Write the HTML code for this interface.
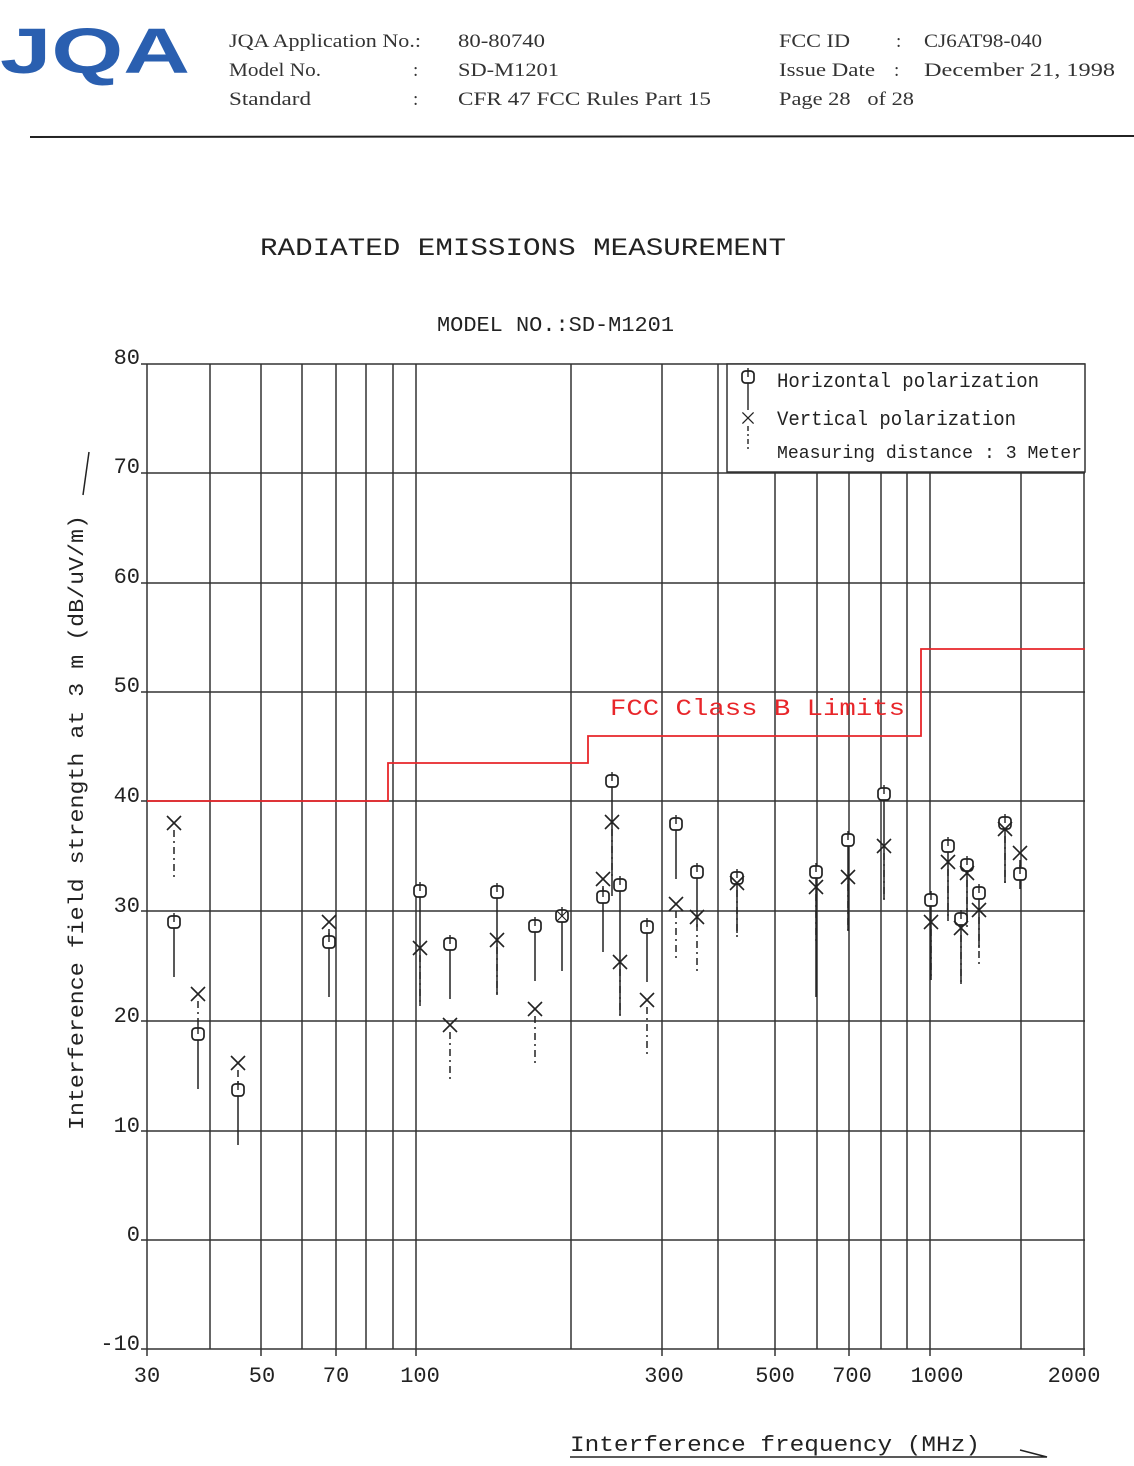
<!DOCTYPE html>
<html><head><meta charset="utf-8"><style>
body{margin:0;background:#fff;}
svg{display:block}
.s{font-family:"Liberation Serif",serif;fill:#333;font-size:19px}
.m{font-family:"Liberation Mono",monospace;fill:#222}
</style></head><body>
<svg width="1134" height="1466" viewBox="0 0 1134 1466" xmlns="http://www.w3.org/2000/svg">
<defs>
<g id="h"><rect x="-6" y="-6" width="12" height="12" rx="3.5" fill="#fff" stroke="#222" stroke-width="1.7"/><line x1="0" y1="-9" x2="0" y2="0" stroke="#222" stroke-width="1.4"/></g>
<g id="v" stroke="#222" stroke-width="1.6"><line x1="-7" y1="-7" x2="7" y2="7"/><line x1="-7" y1="7" x2="7" y2="-7"/></g>
</defs>
<!-- header -->
<text x="0" y="73" style="font-family:'Liberation Sans',sans-serif;font-weight:bold" font-size="64" fill="#2a5fb0" textLength="190" lengthAdjust="spacingAndGlyphs">JQA</text>
<text class="s" x="229" y="47" textLength="192" lengthAdjust="spacingAndGlyphs">JQA Application No.:</text>
<text class="s" x="229" y="76" textLength="92" lengthAdjust="spacingAndGlyphs">Model No.</text>
<text class="s" x="229" y="105" textLength="82" lengthAdjust="spacingAndGlyphs">Standard</text>
<text class="s" x="413" y="76">:</text><text class="s" x="413" y="105">:</text>
<text class="s" x="458" y="47" font-size="20" textLength="87" lengthAdjust="spacingAndGlyphs">80-80740</text>
<text class="s" x="458" y="76" font-size="20" textLength="101" lengthAdjust="spacingAndGlyphs">SD-M1201</text>
<text class="s" x="458" y="105" textLength="253" lengthAdjust="spacingAndGlyphs">CFR 47 FCC Rules Part 15</text>
<text class="s" x="779" y="47" textLength="71" lengthAdjust="spacingAndGlyphs">FCC ID</text><text class="s" x="896" y="47">:</text>
<text class="s" x="924" y="47" textLength="118" lengthAdjust="spacingAndGlyphs">CJ6AT98-040</text>
<text class="s" x="779" y="76" textLength="96" lengthAdjust="spacingAndGlyphs">Issue Date</text><text class="s" x="894" y="76">:</text>
<text class="s" x="924" y="76" font-size="21" textLength="191" lengthAdjust="spacingAndGlyphs">December 21, 1998</text>
<text class="s" x="779" y="105" textLength="135" lengthAdjust="spacingAndGlyphs">Page 28 &#160; of 28</text>
<line x1="30" y1="137" x2="1134" y2="136" stroke="#222" stroke-width="2"/>
<!-- titles -->
<text class="m" x="260" y="255" font-size="25" textLength="526" lengthAdjust="spacingAndGlyphs">RADIATED EMISSIONS MEASUREMENT</text>
<text class="m" x="437" y="331" font-size="21" textLength="237" lengthAdjust="spacingAndGlyphs">MODEL NO.:SD-M1201</text>
<!-- grid -->
<g stroke="#333" stroke-width="1.5">
<line x1="147" y1="364" x2="1085" y2="364"/><line x1="147" y1="473" x2="1085" y2="473"/>
<line x1="147" y1="583" x2="1085" y2="583"/><line x1="147" y1="692" x2="1085" y2="692"/>
<line x1="147" y1="801" x2="1085" y2="801"/><line x1="147" y1="911" x2="1085" y2="911"/>
<line x1="147" y1="1021" x2="1085" y2="1021"/><line x1="147" y1="1131" x2="1085" y2="1131"/>
<line x1="147" y1="1240" x2="1085" y2="1240"/><line x1="147" y1="1349" x2="1085" y2="1349"/>
<line x1="147" y1="364" x2="147" y2="1356"/><line x1="210" y1="364" x2="210" y2="1349"/>
<line x1="261" y1="364" x2="261" y2="1356"/><line x1="302" y1="364" x2="302" y2="1349"/>
<line x1="336" y1="364" x2="336" y2="1356"/><line x1="366" y1="364" x2="366" y2="1349"/>
<line x1="393" y1="364" x2="393" y2="1349"/><line x1="416" y1="364" x2="416" y2="1356"/>
<line x1="571" y1="364" x2="571" y2="1349"/><line x1="662" y1="364" x2="662" y2="1356"/>
<line x1="718" y1="364" x2="718" y2="1349"/><line x1="775" y1="364" x2="775" y2="1356"/>
<line x1="817" y1="364" x2="817" y2="1349"/><line x1="849" y1="364" x2="849" y2="1356"/>
<line x1="881" y1="364" x2="881" y2="1349"/><line x1="907" y1="364" x2="907" y2="1349"/>
<line x1="930" y1="364" x2="930" y2="1356"/><line x1="1021" y1="364" x2="1021" y2="1349"/>
<line x1="1084" y1="364" x2="1084" y2="1356"/>
<line x1="141" y1="364" x2="147" y2="364"/><line x1="141" y1="473" x2="147" y2="473"/><line x1="141" y1="583" x2="147" y2="583"/><line x1="141" y1="692" x2="147" y2="692"/><line x1="141" y1="801" x2="147" y2="801"/><line x1="141" y1="911" x2="147" y2="911"/><line x1="141" y1="1021" x2="147" y2="1021"/><line x1="141" y1="1131" x2="147" y2="1131"/><line x1="141" y1="1240" x2="147" y2="1240"/><line x1="141" y1="1349" x2="147" y2="1349"/>
</g>
<!-- legend -->
<rect x="727" y="364" width="358" height="108" fill="#fff" stroke="#333" stroke-width="1.5"/>
<use href="#h" x="748" y="377"/><line x1="748" y1="383" x2="748" y2="410" stroke="#222" stroke-width="1.4"/>
<use href="#v" x="748" y="418" transform="translate(748,418) scale(0.8) translate(-748,-418)"/>
<line x1="748" y1="426" x2="748" y2="452" stroke="#222" stroke-width="1.4" stroke-dasharray="5,3,2,3"/>
<text class="m" x="777" y="387" font-size="20" textLength="262" lengthAdjust="spacingAndGlyphs">Horizontal polarization</text>
<text class="m" x="777" y="425" font-size="20" textLength="239" lengthAdjust="spacingAndGlyphs">Vertical polarization</text>
<text class="m" x="777" y="458" font-size="18" textLength="305" lengthAdjust="spacingAndGlyphs">Measuring distance : 3 Meter</text>
<!-- limits -->
<polyline fill="none" stroke="#e8262a" stroke-width="1.8" points="147,801 388,801 388,763 588,763 588,736 921,736 921,649 1085,649"/>
<text class="m" x="610" y="715" font-size="23" style="fill:#e8262a" textLength="295" lengthAdjust="spacingAndGlyphs">FCC Class B Limits</text>
<!-- y labels -->
<g class="m" font-size="22" text-anchor="end">
<text x="140" y="364">80</text><text x="140" y="473">70</text><text x="140" y="583">60</text><text x="140" y="692">50</text><text x="140" y="802">40</text><text x="140" y="912">30</text><text x="140" y="1022">20</text><text x="140" y="1132">10</text><text x="140" y="1241">0</text><text x="140" y="1350">-10</text>
</g>
<g class="m" font-size="22" text-anchor="middle">
<text x="147" y="1382">30</text><text x="262" y="1382">50</text><text x="336" y="1382">70</text><text x="420" y="1382">100</text><text x="664" y="1382">300</text><text x="775" y="1382">500</text><text x="852" y="1382">700</text><text x="937" y="1382">1000</text><text x="1074" y="1382">2000</text>
</g>
<text class="m" font-size="21" transform="translate(83,1130) rotate(-90)" textLength="615" lengthAdjust="spacingAndGlyphs">Interference field strength at 3 m (dB/uV/m)</text>
<line x1="83" y1="495" x2="89" y2="452" stroke="#222" stroke-width="1.5"/>
<text class="m" x="570" y="1451" font-size="22" textLength="410" lengthAdjust="spacingAndGlyphs">Interference frequency (MHz)</text>
<polyline fill="none" stroke="#222" stroke-width="1.5" points="570,1457 1047,1457 1020,1450"/>
<!-- data sticks -->
<g stroke="#222" stroke-width="1.5">
<path d="M174 927v50M198 1039v50M238 1095v50M329 947v50M420 896v110M450 949v50M497 897v98M535 931v50M562 921v50M603 902v50M612 786v110M620 890v125M647 932v50M676 829v50M697 877v50M737 883v50M816 877v120M848 845v85M884 799v100M931 905v75M948 851v70M961 924v60M967 870v50M979 898v50M1005 828v55M1020 879v10"/>
</g>
<g stroke="#222" stroke-width="1.5" stroke-dasharray="7,4,2,4">
<path d="M174 830v50M198 1001v30M238 1070v18M329 929v10M420 955v50M450 1032v50M497 947v48M535 1016v50M603 886v10M612 829v50M620 969v50M647 1007v50M676 911v50M697 924v50M737 890v50M816 894v50M848 884v50M884 853v50M931 929v50M948 869v50M961 935v50M967 880v50M979 917v50M1005 836v50M1020 860v10"/>
</g>
<g>
<use href="#h" x="174" y="922"/><use href="#v" x="174" y="823"/>
<use href="#h" x="198" y="1034"/><use href="#v" x="198" y="994"/>
<use href="#h" x="238" y="1090"/><use href="#v" x="238" y="1063"/>
<use href="#h" x="329" y="942"/><use href="#v" x="329" y="922"/>
<use href="#h" x="420" y="891"/><use href="#v" x="420" y="948"/>
<use href="#h" x="450" y="944"/><use href="#v" x="450" y="1025"/>
<use href="#h" x="497" y="892"/><use href="#v" x="497" y="940"/>
<use href="#h" x="535" y="926"/><use href="#v" x="535" y="1009"/>
<use href="#h" x="562" y="916"/><use href="#v" x="562" y="916" transform="translate(562,916) scale(0.7) translate(-562,-916)"/>
<use href="#h" x="603" y="897"/><use href="#v" x="603" y="879"/>
<use href="#h" x="612" y="781"/><use href="#v" x="612" y="822"/>
<use href="#h" x="620" y="885"/><use href="#v" x="620" y="962"/>
<use href="#h" x="647" y="927"/><use href="#v" x="647" y="1000"/>
<use href="#h" x="676" y="824"/><use href="#v" x="676" y="904"/>
<use href="#h" x="697" y="872"/><use href="#v" x="697" y="917"/>
<use href="#h" x="737" y="878"/><use href="#v" x="737" y="883"/>
<use href="#h" x="816" y="872"/><use href="#v" x="816" y="887"/>
<use href="#h" x="848" y="840"/><use href="#v" x="848" y="877"/>
<use href="#h" x="884" y="794"/><use href="#v" x="884" y="846"/>
<use href="#h" x="931" y="900"/><use href="#v" x="931" y="922"/>
<use href="#h" x="948" y="846"/><use href="#v" x="948" y="862"/>
<use href="#h" x="961" y="919"/><use href="#v" x="961" y="928"/>
<use href="#h" x="967" y="865"/><use href="#v" x="967" y="873"/>
<use href="#h" x="979" y="893"/><use href="#v" x="979" y="910"/>
<use href="#h" x="1005" y="823"/><use href="#v" x="1005" y="829"/>
<use href="#h" x="1020" y="874"/><use href="#v" x="1020" y="853"/>
</g>
</svg>
</body></html>
